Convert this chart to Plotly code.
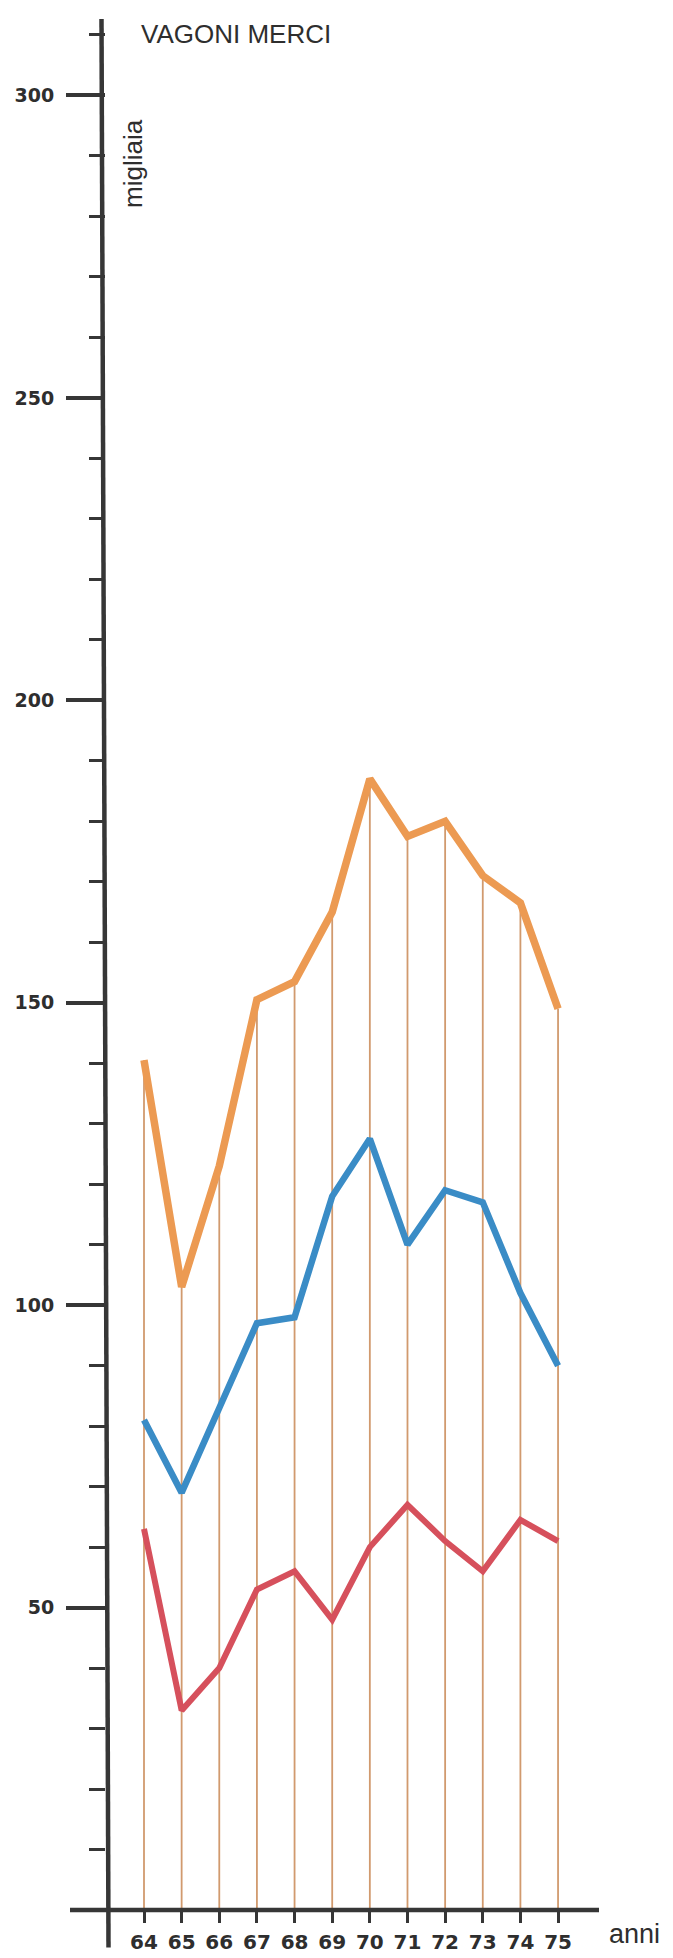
import plotly.graph_objects as go

# ---- data ----
years = [64, 65, 66, 67, 68, 69, 70, 71, 72, 73, 74, 75]
year_labels = [str(y) for y in years]
orange_vals = [140.5, 103, 123, 150.5, 153.5, 165, 187, 177.5, 180, 171, 166.5, 149]
blue_vals = [81, 69, 83, 97, 98, 118, 127.5, 110, 119, 117, 102, 90]
red_vals = [63, 33, 40, 53, 56, 48, 60, 67, 61, 56, 64.5, 61]
y_major = [50, 100, 150, 200, 250, 300]
y_minor = [v for v in range(10, 320, 10) if v % 50 != 0]

AXIS = "#363636"
TXT = "#2e2e2e"
ORANGE = "#ec9a52"
BLUE = "#3a8cc6"
RED = "#d6505c"
DROP = "#d19a6e"

# The page body has a default 8px margin; the figure is shrunk by it so that
# everything lands at the intended window pixels.
OFF = 8
WIN_W, WIN_H = 673, 1958
W, H = WIN_W - OFF, WIN_H - OFF

# intended plot-area edges in window pixels
LEFT_PX, RIGHT_PX, TOP_PX, ZERO_PX = 106, 599, 19, 1910.5
L = LEFT_PX - OFF
T = TOP_PX - OFF
R = W - (RIGHT_PX - OFF)
B = H - (ZERO_PX - OFF)
pw, ph = W - L - R, H - T - B


def px_x(p):
    return (p - LEFT_PX) / pw


def px_y(p):
    return (ZERO_PX - p) / ph


fig = go.Figure()

# drop lines from the axis up to the top (orange) series
dx, dy = [], []
for x, v in zip(years, orange_vals):
    dx += [x, x, None]
    dy += [0, v, None]
fig.add_trace(go.Scatter(x=dx, y=dy, mode="lines",
                         line=dict(color=DROP, width=1.8), hoverinfo="skip"))

for vals, col, w in [(orange_vals, ORANGE, 7.5), (blue_vals, BLUE, 6.5), (red_vals, RED, 6)]:
    fig.add_trace(go.Scatter(x=years, y=vals, mode="lines",
                             line=dict(color=col, width=w, shape="linear"),
                             hoverinfo="skip"))

fig.update_layout(
    width=W, height=H,
    margin=dict(l=L, r=R, t=T, b=B, pad=0, autoexpand=False),
    paper_bgcolor="white", plot_bgcolor="white",
    showlegend=False,
    xaxis=dict(range=[62.9904, 76.088], tickvals=years, ticktext=year_labels,
               ticks="outside", ticklen=12, tickwidth=2.5, tickcolor=AXIS,
               showline=False, showgrid=False, zeroline=False, automargin=False,
               tickfont=dict(family="DejaVu Sans", size=20, color=TXT, weight="bold"),
               ticklabelstandoff=2),
    yaxis=dict(range=[0, 312.64], tickvals=y_major,
               ticks="outside", ticklen=39, tickwidth=4, tickcolor=AXIS,
               showline=False, showgrid=False, zeroline=False, automargin=False,
               tickfont=dict(family="DejaVu Sans", size=19, color=TXT, weight="bold"),
               ticklabelstandoff=8,
               minor=dict(tickvals=y_minor, ticks="outside", ticklen=16,
                          tickwidth=3, tickcolor=AXIS, showgrid=False)),
    shapes=[
        dict(type="line", xref="paper", yref="paper",
             x0=px_x(101.5), x1=px_x(108.5), y0=px_y(19), y1=px_y(1948),
             line=dict(color=AXIS, width=4.5)),
        dict(type="line", xref="paper", yref="paper",
             x0=px_x(70), x1=px_x(599), y0=0, y1=0,
             line=dict(color=AXIS, width=4.5)),
    ],
    annotations=[
        dict(text="VAGONI MERCI", xref="paper", yref="paper",
             x=px_x(139), y=px_y(34), xanchor="left", yanchor="middle",
             showarrow=False, font=dict(family="Liberation Sans", size=26, color=TXT)),
        dict(text="migliaia", xref="paper", yref="paper", textangle=-90,
             x=px_x(133), y=px_y(164), xanchor="center", yanchor="middle",
             showarrow=False, font=dict(family="Liberation Sans", size=26, color=TXT)),
        dict(text="anni", xref="paper", yref="paper",
             x=px_x(634), y=px_y(1935), xanchor="center", yanchor="middle",
             showarrow=False, font=dict(family="Liberation Sans", size=27, color=TXT)),
    ],
)

fig.write_html("out.html")
